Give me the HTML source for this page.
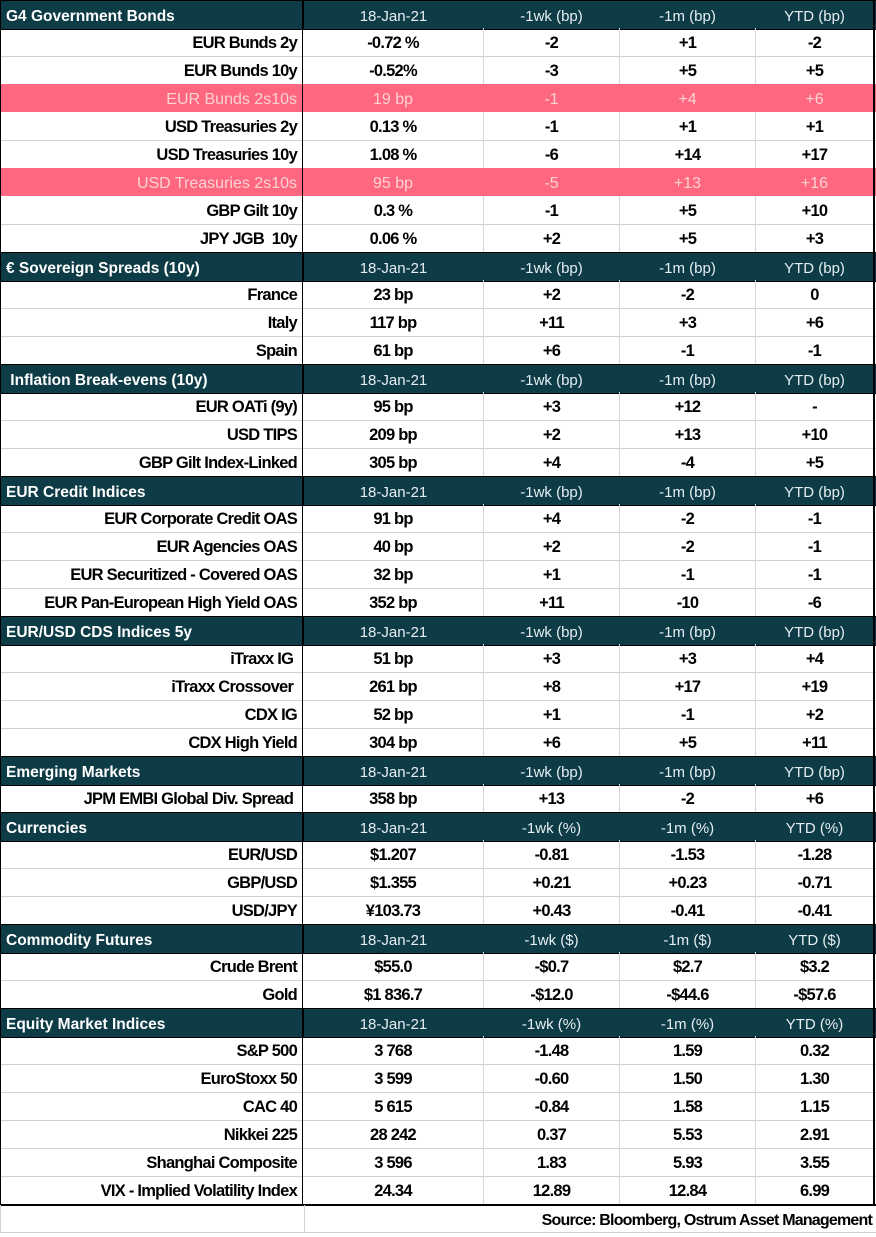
<!DOCTYPE html>
<html><head><meta charset="utf-8"><style>
body{margin:0;width:876px;height:1235px;background:#fff;overflow:hidden;font-family:"Liberation Sans",Arial,sans-serif}
#t{position:absolute;left:0;top:0;width:876px}
.r{position:absolute;left:0;width:876px;height:28px}
.c{position:absolute;top:0;height:28px;line-height:31px;text-align:center;font-size:16.5px;font-weight:bold;color:#000;box-sizing:border-box;letter-spacing:-0.75px;white-space:pre}
.c0{left:0;width:303px;text-align:right;padding-right:5px;border-left:1px solid #000;border-right:1px solid #000}
.c1{left:303px;width:181px;border-right:1px solid #d8d8d8}
.c2{left:484px;width:136px;border-right:1px solid #d8d8d8}
.c3{left:620px;width:136px;border-right:1px solid #d8d8d8}
.c4{left:756px;width:119px;border-right:2px solid #000}
.d{border-bottom:1px solid #d0d0d0}
.h{background:#0e3c46;border-top:1px solid #000;border-bottom:1px solid #000}
.h .c{color:#e6eef2;font-weight:normal;line-height:31px;letter-spacing:0;font-size:15px}
.h .c0{text-align:left;padding-left:5px;font-weight:bold;color:#fff;font-size:15.5px}
.h .c1,.h .c2,.h .c3{border-right:1px solid #0e3c46}
.h .c1{border-left:1px solid #000}
.p{background:#ff6680}
.p .c{color:#fbd3d3;font-weight:normal;letter-spacing:0;font-size:16px}
.p .c1,.p .c2,.p .c3{border-right:1px solid #ff6680}
#src{position:absolute;left:0;top:1205px;width:876px;height:28px;border-left:1px solid #d0d0d0;border-bottom:1px solid #d0d0d0;box-sizing:border-box}
#src .l{position:absolute;left:303px;top:0;height:28px;border-left:1px solid #d0d0d0}
#src .s{position:absolute;right:4px;top:0;line-height:32px;font-size:16px;font-weight:bold;letter-spacing:-0.8px}
</style></head><body>
<div id="t"></div>
<div id="src"><div class="l"></div><span class="s">Source: Bloomberg, Ostrum Asset Management</span></div>
<script>
const rows = [
["h","G4 Government Bonds","18-Jan-21","-1wk (bp)","-1m (bp)","YTD (bp)"],
["d","EUR Bunds 2y","-0.72 %","-2","+1","-2"],
["d","EUR Bunds 10y","-0.52%","-3","+5","+5"],
["p","EUR Bunds 2s10s","19 bp","-1","+4","+6"],
["d","USD Treasuries 2y","0.13 %","-1","+1","+1"],
["d","USD Treasuries 10y","1.08 %","-6","+14","+17"],
["p","USD Treasuries 2s10s","95 bp","-5","+13","+16"],
["d","GBP Gilt 10y","0.3 %","-1","+5","+10"],
["d","JPY JGB  10y","0.06 %","+2","+5","+3"],
["h","€ Sovereign Spreads (10y)","18-Jan-21","-1wk (bp)","-1m (bp)","YTD (bp)"],
["d","France","23 bp","+2","-2","0"],
["d","Italy","117 bp","+11","+3","+6"],
["d","Spain","61 bp","+6","-1","-1"],
["h"," Inflation Break-evens (10y)","18-Jan-21","-1wk (bp)","-1m (bp)","YTD (bp)"],
["d","EUR OATi (9y)","95 bp","+3","+12","-"],
["d","USD TIPS","209 bp","+2","+13","+10"],
["d","GBP Gilt Index-Linked","305 bp","+4","-4","+5"],
["h","EUR Credit Indices","18-Jan-21","-1wk (bp)","-1m (bp)","YTD (bp)"],
["d","EUR Corporate Credit OAS","91 bp","+4","-2","-1"],
["d","EUR Agencies OAS","40 bp","+2","-2","-1"],
["d","EUR Securitized - Covered OAS","32 bp","+1","-1","-1"],
["d","EUR Pan-European High Yield OAS","352 bp","+11","-10","-6"],
["h","EUR/USD CDS Indices 5y","18-Jan-21","-1wk (bp)","-1m (bp)","YTD (bp)"],
["d","iTraxx IG ","51 bp","+3","+3","+4"],
["d","iTraxx Crossover ","261 bp","+8","+17","+19"],
["d","CDX IG","52 bp","+1","-1","+2"],
["d","CDX High Yield","304 bp","+6","+5","+11"],
["h","Emerging Markets","18-Jan-21","-1wk (bp)","-1m (bp)","YTD (bp)"],
["d","JPM EMBI Global Div. Spread ","358 bp","+13","-2","+6"],
["h","Currencies","18-Jan-21","-1wk (%)","-1m (%)","YTD (%)"],
["d","EUR/USD","$1.207","-0.81","-1.53","-1.28"],
["d","GBP/USD","$1.355","+0.21","+0.23","-0.71"],
["d","USD/JPY","¥103.73","+0.43","-0.41","-0.41"],
["h","Commodity Futures","18-Jan-21","-1wk ($)","-1m ($)","YTD ($)"],
["d","Crude Brent","$55.0","-$0.7","$2.7","$3.2"],
["d","Gold","$1 836.7","-$12.0","-$44.6","-$57.6"],
["h","Equity Market Indices","18-Jan-21","-1wk (%)","-1m (%)","YTD (%)"],
["d","S&P 500","3 768","-1.48","1.59","0.32"],
["d","EuroStoxx 50","3 599","-0.60","1.50","1.30"],
["d","CAC 40","5 615","-0.84","1.58","1.15"],
["d","Nikkei 225","28 242","0.37","5.53","2.91"],
["d","Shanghai Composite","3 596","1.83","5.93","3.55"],
["d","VIX - Implied Volatility Index","24.34","12.89","12.84","6.99"]
];
const t = document.getElementById('t');
rows.forEach((r, i) => {
  const row = document.createElement('div');
  row.className = 'r ' + r[0];
  row.style.top = (i * 28) + 'px';
  
  
  for (let k = 1; k < 6; k++) {
    const c = document.createElement('div');
    c.className = 'c c' + (k - 1);
    c.textContent = r[k];
    
    
    row.appendChild(c);
  }
  t.appendChild(row);
});
const last = t.lastChild;
last.style.borderBottom = '2px solid #000';
</script>
</body></html>
